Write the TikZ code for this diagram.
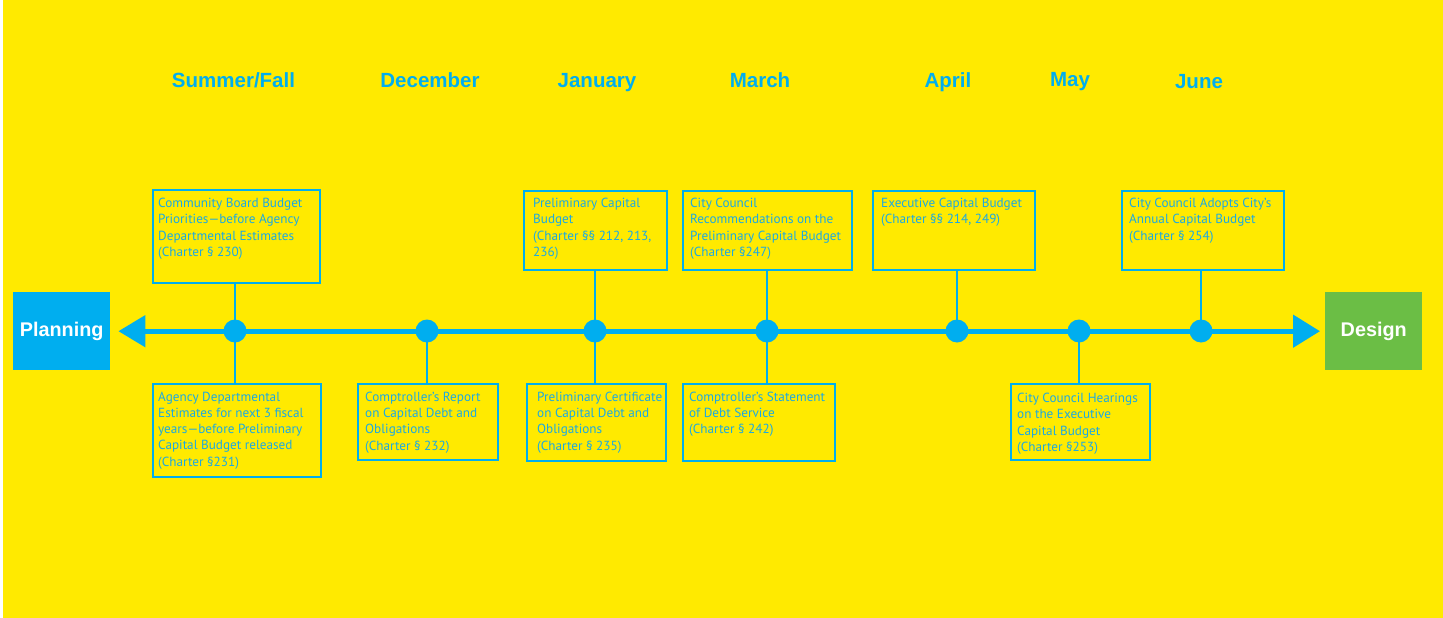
\documentclass[tikz,border=0pt]{standalone}
\usepackage{fontspec}
\setmainfont{PT Sans}
\newfontfamily\headfont{Liberation Sans}
\usetikzlibrary{arrows.meta}
\definecolor{bgyellow}{HTML}{FFEA00}
\definecolor{tlblue}{HTML}{00AEEF}
\definecolor{txblue}{HTML}{1CA9E2}
\definecolor{dsgreen}{HTML}{6BBE45}
\tikzset{
  month/.style={text=tlblue, font=\headfont\bfseries\fontsize{20.5}{24}\selectfont, anchor=base, inner sep=0},
  evbox/.style={draw=tlblue, line width=2.2pt, rectangle, inner sep=0, anchor=north west},
  evtext/.style={text=txblue, font=\fontsize{13.2}{16.3}\selectfont, align=left, anchor=north west, inner sep=0},
  conn/.style={draw=tlblue, line width=2pt},
  dot/.style={circle, fill=tlblue, minimum size=23pt, inner sep=0},
  endbox/.style={rectangle, inner sep=0, minimum width=97pt, minimum height=78pt, anchor=north west, text=white, font=\headfont\bfseries\fontsize{19.8}{24}\selectfont},
}
\begin{document}
\begin{tikzpicture}[x=1pt,y=-1pt]
\useasboundingbox (0,0) rectangle (1443,618);
\fill[white] (0,0) rectangle (1443,618);
\fill[bgyellow] (3,0) rectangle (1443,618);

% months
\node[month] (m1) at (233.5,87.5) {Summer/Fall};
\node[month] (m2) at (430,87.5) {December};
\node[month] (m3) at (597,87.5) {January};
\node[month] (m4) at (760,87.5) {March};
\node[month] (m5) at (948,87.5) {April};
\node[month] (m6) at (1070,86.5) {May};
\node[month] (m7) at (1199,88.5) {June};

% end boxes
\node[endbox, fill=tlblue] (plan) at (13,292) {Planning};
\node[endbox, fill=dsgreen] (design) at (1325,292) {Design};

% timeline
\draw[tlblue, line width=5pt, {Triangle[length=27pt,width=31pt]}-{Triangle[length=27pt,width=32pt]}, shorten <=8pt, shorten >=5pt] (plan.east) -- (design.west);

% top boxes
\node[evbox, minimum width=167pt, minimum height=93pt] (t1) at (152,189) {};
\node[evbox, minimum width=143pt, minimum height=79pt] (t2) at (523,190) {};
\node[evbox, minimum width=169pt, minimum height=79pt] (t3) at (682,190) {};
\node[evbox, minimum width=162pt, minimum height=79pt] (t4) at (872,190) {};
\node[evbox, minimum width=162pt, minimum height=79pt] (t5) at (1121,190) {};

\node[evtext] (tt1) at (158,198) {Community Board Budget\\Priorities—before Agency\\Departmental Estimates\\(Charter § 230)};
\node[evtext] (tt2) at (533,198) {Preliminary Capital\\Budget\\(Charter §§ 212, 213,\\236)};
\node[evtext] (tt3) at (690,198) {City Council\\Recommendations on the\\Preliminary Capital Budget\\(Charter §247)};
\node[evtext] (tt4) at (881,198) {Executive Capital Budget\\(Charter §§ 214, 249)};
\node[evtext] (tt5) at (1129,198) {City Council Adopts City’s\\Annual Capital Budget\\(Charter § 254)};

% bottom boxes
\node[evbox, minimum width=168pt, minimum height=93pt] (b1) at (152,383) {};
\node[evbox, minimum width=140pt, minimum height=76pt] (b2) at (357,383) {};
\node[evbox, minimum width=139pt, minimum height=77pt] (b3) at (526,383) {};
\node[evbox, minimum width=152pt, minimum height=77pt] (b4) at (682,383) {};
\node[evbox, minimum width=139pt, minimum height=76pt] (b5) at (1010,383) {};

\node[evtext] (bt1) at (158,391.5) {Agency Departmental\\Estimates for next 3 fiscal\\years—before Preliminary\\Capital Budget released\\(Charter §231)};
\node[evtext] (bt2) at (365,391.5) {Comptroller’s Report\\on Capital Debt and\\Obligations\\(Charter § 232)};
\node[evtext] (bt3) at (537,391.5) {Preliminary Certificate\\on Capital Debt and\\Obligations\\(Charter § 235)};
\node[evtext] (bt4) at (689,391.5) {Comptroller’s Statement\\of Debt Service\\(Charter § 242)};
\node[evtext] (bt5) at (1017,393) {City Council Hearings\\on the Executive\\Capital Budget\\(Charter §253)};

% dots
\node[dot] (d1) at (235,331) {};
\node[dot] (d2) at (427,331) {};
\node[dot] (d3) at (595,331) {};
\node[dot] (d4) at (767,331) {};
\node[dot] (d5) at (957,331) {};
\node[dot] (d6) at (1079,331) {};
\node[dot] (d7) at (1201,331) {};

% connectors
\draw[conn] (d1.center) -- (d1 |- t1.south);
\draw[conn] (d1.center) -- (d1 |- b1.north);
\draw[conn] (d2.center) -- (d2 |- b2.north);
\draw[conn] (d3.center) -- (d3 |- t2.south);
\draw[conn] (d3.center) -- (d3 |- b3.north);
\draw[conn] (d4.center) -- (d4 |- t3.south);
\draw[conn] (d4.center) -- (d4 |- b4.north);
\draw[conn] (d5.center) -- (d5 |- t4.south);
\draw[conn] (d6.center) -- (d6 |- b5.north);
\draw[conn] (d7.center) -- (d7 |- t5.south);
\end{tikzpicture}
\end{document}
